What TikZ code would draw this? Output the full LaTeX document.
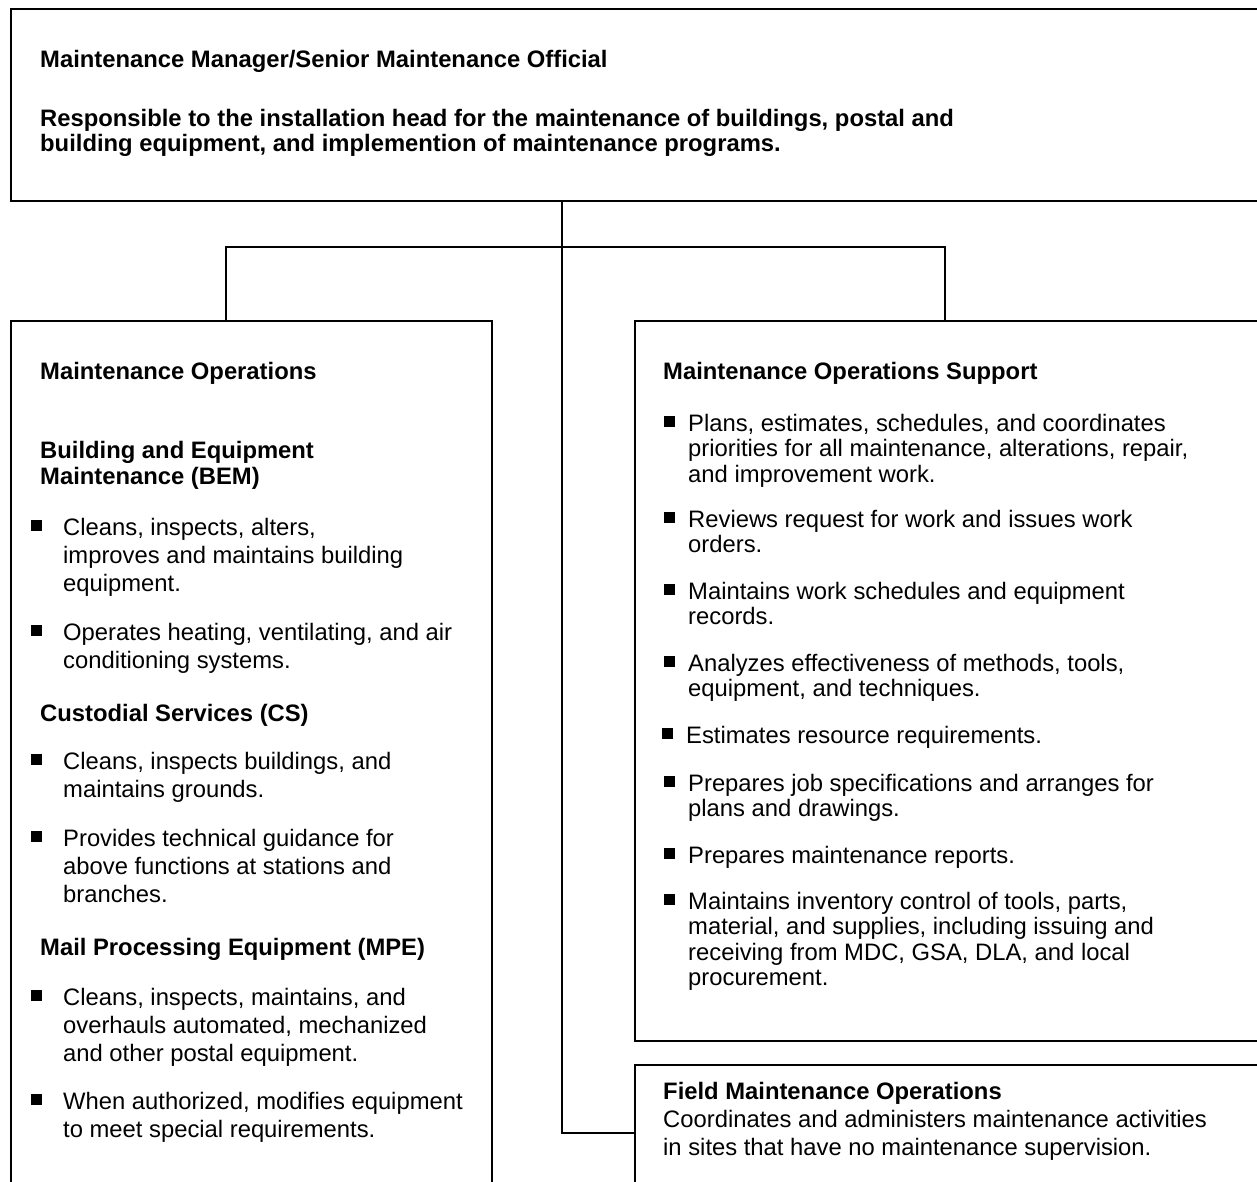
\documentclass[tikz,border=0pt]{standalone}
\usepackage{fontspec}
\setmainfont{Liberation Sans}
\newlength{\bulind}
\newcommand{\bsq}{\rule[4.5pt]{10.5pt}{10.5pt}}
\newcommand{\blist}[2]{\parbox[t]{600pt}{\setlength{\bulind}{#1}\hangindent=\bulind\hangafter=1\relax\makebox[\bulind][l]{\bsq}#2}}
\newcommand{\plist}[1]{\parbox[t]{1150pt}{#1}}
\tikzset{
  box/.style={draw, line width=1.8pt, anchor=north west, inner sep=0pt},
  conn/.style={line width=1.8pt},
  lbl/.style={anchor=base west, inner sep=0pt},
  lfont/.style={font=\fontsize{23.8}{28}\selectfont},
  rfont/.style={font=\fontsize{23.8}{25.5}\selectfont},
  ffont/.style={font=\fontsize{23.8}{28}\selectfont},
  hfont/.style={font=\fontsize{23.8}{25}\selectfont\bfseries},
  h2font/.style={font=\fontsize{23.8}{26}\selectfont\bfseries},
}
\begin{document}
\begin{tikzpicture}[x=1pt,y=-1pt]
\useasboundingbox (0,0) rectangle (1257,1182);
\clip (0,0) rectangle (1257,1182);
% boxes
\node[box, minimum width=1300pt, minimum height=192pt] (top) at (10,8) {};
\node[box, minimum width=481pt, minimum height=900pt] (ops) at (10,320) {};
\node[box, minimum width=700pt, minimum height=720pt] (sup) at (634,320) {};
\node[box, minimum width=700pt, minimum height=300pt] (fld) at (634,1064) {};
% connector coordinates
\coordinate (trunk) at (562,0);
\coordinate (bar) at (0,247);
\coordinate (lb) at (226,0);
\coordinate (rb) at (945,0);
\coordinate (fy) at (0,1133);
\draw[conn] (top.south -| trunk) -- (fy -| trunk) -- (fld.west |- fy);
\draw[conn] (ops.north -| lb) -- (bar -| lb) -- (bar -| rb) -- (sup.north -| rb);
% top box text
\node[lbl, hfont] (t1) at (40,68) {Maintenance Manager/Senior Maintenance Official};
\node[lbl, hfont] (t2) at (40,127) {\plist{Responsible to the installation head for the maintenance of buildings, postal and\\building equipment, and implemention of maintenance programs.}};
% left column
\node[lbl, hfont] (l0) at (40,379) {Maintenance Operations};
\node[lbl, h2font] (l1) at (40,458) {\plist{Building and Equipment\\Maintenance (BEM)}};
\node[lbl, lfont] (l2) at (31,535) {\blist{32pt}{Cleans, inspects, alters,\\improves and maintains building\\equipment.}};
\node[lbl, lfont] (l3) at (31,640) {\blist{32pt}{Operates heating, ventilating, and air\\conditioning systems.}};
\node[lbl, hfont] (l4) at (40,721) {Custodial Services (CS)};
\node[lbl, lfont] (l5) at (31,769) {\blist{32pt}{Cleans, inspects buildings, and\\maintains grounds.}};
\node[lbl, lfont] (l6) at (31,846) {\blist{32pt}{Provides technical guidance for\\above functions at stations and\\branches.}};
\node[lbl, hfont] (l7) at (40,955) {Mail Processing Equipment (MPE)};
\node[lbl, lfont] (l8) at (31,1005) {\blist{32pt}{Cleans, inspects, maintains, and\\overhauls automated, mechanized\\and other postal equipment.}};
\node[lbl, lfont] (l9) at (31,1109) {\blist{32pt}{When authorized, modifies equipment\\to meet special requirements.}};
% right column
\node[lbl, hfont] (r0) at (663,379) {Maintenance Operations Support};
\node[lbl, rfont] (r1) at (664,431) {\blist{24pt}{Plans, estimates, schedules, and coordinates\\priorities for all maintenance, alterations, repair,\\and improvement work.}};
\node[lbl, rfont] (r2) at (664,527) {\blist{24pt}{Reviews request for work and issues work\\orders.}};
\node[lbl, rfont] (r3) at (664,599) {\blist{24pt}{Maintains work schedules and equipment\\records.}};
\node[lbl, rfont] (r4) at (664,671) {\blist{24pt}{Analyzes effectiveness of methods, tools,\\equipment, and techniques.}};
\node[lbl, rfont] (r5) at (662,743) {\blist{24pt}{Estimates resource requirements.}};
\node[lbl, rfont] (r6) at (664,791) {\blist{24pt}{Prepares job specifications and arranges for\\plans and drawings.}};
\node[lbl, rfont] (r7) at (664,863) {\blist{24pt}{Prepares maintenance reports.}};
\node[lbl, rfont] (r8) at (664,909) {\blist{24pt}{Maintains inventory control of tools, parts,\\material, and supplies, including issuing and\\receiving from MDC, GSA, DLA, and local\\procurement.}};
% field box
\node[lbl, hfont] (f0) at (663,1099) {Field Maintenance Operations};
\node[lbl, ffont] (f1) at (663,1127) {\plist{Coordinates and administers maintenance activities\\in sites that have no maintenance supervision.}};
\end{tikzpicture}
\end{document}
